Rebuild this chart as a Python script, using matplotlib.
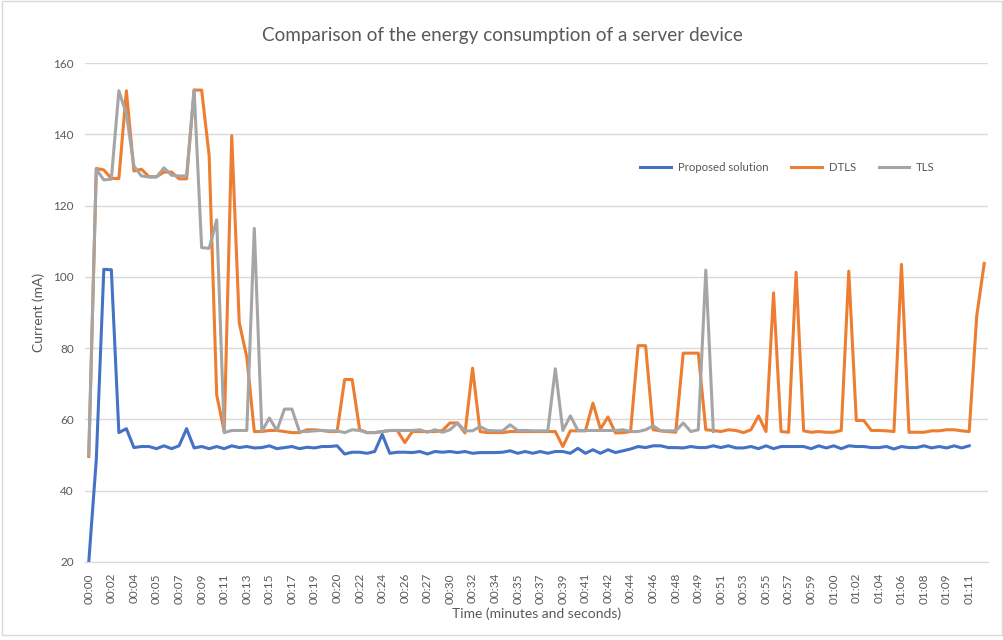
import numpy as np
import matplotlib.pyplot as plt
from matplotlib.patches import Rectangle

plt.rcParams['font.family'] = ['Lato', 'DejaVu Sans']

# Current (mA) per sample
proposed = [20.0, 48.7, 102.1, 102.0, 56.3, 57.4, 52.1, 52.4, 52.4, 51.8,
            52.6, 51.8, 52.6, 57.4, 52.0, 52.4, 51.8, 52.4, 51.8, 52.6,
            52.1, 52.4, 52.0, 52.1, 52.6, 51.8, 52.1, 52.4, 51.8, 52.2,
            52.0, 52.4, 52.4, 52.6, 50.3, 50.8, 50.8, 50.5, 51.0, 55.8,
            50.5, 50.8, 50.8, 50.7, 51.0, 50.3, 51.0, 50.8, 51.0, 50.7,
            51.0, 50.5, 50.7, 50.7, 50.7, 50.8, 51.2, 50.5, 51.0, 50.5,
            51.0, 50.5, 51.0, 51.0, 50.5, 51.9, 50.5, 51.5, 50.5, 51.5,
            50.7, 51.2, 51.7, 52.4, 52.1, 52.6, 52.6, 52.1, 52.1, 52.0,
            52.4, 52.1, 52.1, 52.6, 52.1, 52.6, 52.0, 52.0, 52.4, 51.8,
            52.6, 51.8, 52.4, 52.4, 52.4, 52.4, 51.8, 52.6, 52.0, 52.6,
            51.8, 52.6, 52.4, 52.4, 52.1, 52.1, 52.4, 51.7, 52.4, 52.1,
            52.1, 52.6, 52.0, 52.4, 52.0, 52.6, 52.0, 52.6]

dtls = [49.6, 130.4, 130.0, 127.6, 127.6, 152.2, 129.7, 130.2, 128.1, 128.1,
        129.4, 129.4, 127.5, 127.5, 152.4, 152.4, 134.0, 66.9, 56.6, 139.6,
        87.1, 77.5, 56.6, 56.6, 56.9, 56.9, 56.6, 56.3, 56.3, 57.1,
        57.1, 56.9, 56.6, 56.6, 71.2, 71.2, 57.1, 56.3, 56.3, 56.6,
        56.9, 56.9, 53.5, 56.6, 56.6, 56.6, 56.6, 56.9, 59.0, 59.0,
        56.2, 74.4, 56.6, 56.3, 56.3, 56.3, 56.6, 56.6, 56.6, 56.6,
        56.6, 56.6, 56.6, 52.4, 56.8, 56.8, 56.8, 64.6, 57.3, 60.7,
        56.2, 56.3, 56.6, 80.7, 80.7, 57.1, 56.8, 56.6, 56.4, 78.6,
        78.6, 78.6, 57.1, 56.9, 56.6, 57.1, 56.9, 56.3, 57.1, 61.0,
        56.6, 95.5, 56.6, 56.4, 101.3, 56.8, 56.4, 56.6, 56.4, 56.4,
        56.9, 101.6, 59.7, 59.7, 56.9, 56.9, 56.8, 56.6, 103.5, 56.4,
        56.4, 56.4, 56.8, 56.8, 57.1, 57.1, 56.8, 56.6, 89.0, 103.8]

tls = [50.0, 130.2, 127.2, 127.4, 152.2, 145.7, 131.1, 128.3, 128.0, 128.0,
       130.6, 128.5, 128.3, 128.3, 152.5, 108.2, 108.0, 116.0, 56.3, 56.9,
       56.9, 56.9, 113.6, 56.6, 60.4, 56.9, 62.9, 62.9, 56.6, 56.6,
       56.8, 56.9, 56.8, 56.8, 56.3, 57.1, 56.9, 56.3, 56.3, 56.6,
       56.9, 56.9, 56.9, 56.9, 57.1, 56.4, 57.1, 56.4, 57.1, 59.0,
       56.8, 56.8, 58.0, 56.9, 56.8, 56.8, 58.5, 56.9, 56.9, 56.8,
       56.8, 56.8, 74.2, 56.9, 61.0, 56.9, 56.9, 56.9, 56.9, 56.9,
       56.9, 57.1, 56.6, 56.6, 57.1, 58.2, 56.8, 56.8, 56.8, 59.0,
       56.6, 57.1, 101.9, 56.6]

# one label every third sample
tick_labels = ['00:00', '00:02', '00:04', '00:05', '00:07', '00:09', '00:11', '00:13',
               '00:15', '00:17', '00:19', '00:20', '00:22', '00:24', '00:26', '00:27',
               '00:30', '00:32', '00:34', '00:35', '00:37', '00:39', '00:41', '00:42',
               '00:44', '00:46', '00:48', '00:49', '00:51', '00:53', '00:55', '00:57',
               '00:59', '01:00', '01:02', '01:04', '01:06', '01:08', '01:09', '01:11']

text_col = '#595959'
grid_col = '#D9D9D9'

fig = plt.figure(figsize=(10.04, 6.4), dpi=100)
ax = fig.add_axes([85 / 1004, 1 - 562 / 640, (988 - 85) / 1004, (562 - 63) / 640])

n = len(dtls)
ax.plot(np.arange(len(proposed)), proposed, color='#4472C4', lw=2.2,
        label='Proposed solution', solid_joinstyle='round')
ax.plot(np.arange(n), dtls, color='#ED7D31', lw=2.2, label='DTLS',
        solid_joinstyle='round')
ax.plot(np.arange(len(tls)), tls, color='#A5A5A5', lw=2.2, label='TLS',
        solid_joinstyle='round')

ax.set_xlim(-0.5, n - 0.5)
ax.set_ylim(20, 160)
ax.set_yticks(np.arange(20, 161, 20))
ax.set_xticks(np.arange(0, 3 * len(tick_labels), 3))
ax.set_xticklabels(tick_labels, rotation=90)
ax.tick_params(axis='both', length=0, colors=text_col, labelsize=8.5)
ax.tick_params(axis='y', pad=8)
ax.tick_params(axis='x', pad=8)
ax.grid(axis='y', color=grid_col, lw=1)
ax.set_axisbelow(True)
for s in ['top', 'left', 'right']:
    ax.spines[s].set_visible(False)
ax.spines['bottom'].set_color(grid_col)

ax.set_ylabel('Current (mA)', color=text_col, fontsize=10, labelpad=6)
ax.set_xlabel('Time (minutes and seconds)', color=text_col, fontsize=10, labelpad=3)
fig.text(0.5, 1 - 35 / 640, 'Comparison of the energy consumption of a server device',
         ha='center', va='center', fontsize=13.6, color=text_col)

leg = ax.legend(loc='center', bbox_to_anchor=(0.778, 0.79), ncol=3, frameon=False,
                fontsize=8.2, handlelength=2.7, columnspacing=2.0, handletextpad=0.6)
for t in leg.get_texts():
    t.set_color(text_col)

fig.patches.append(Rectangle((0.002, 0.008), 0.996, 0.99, transform=fig.transFigure,
                             fill=False, edgecolor='#D9D9D9', lw=1))

fig.savefig('out.png', dpi=100)
